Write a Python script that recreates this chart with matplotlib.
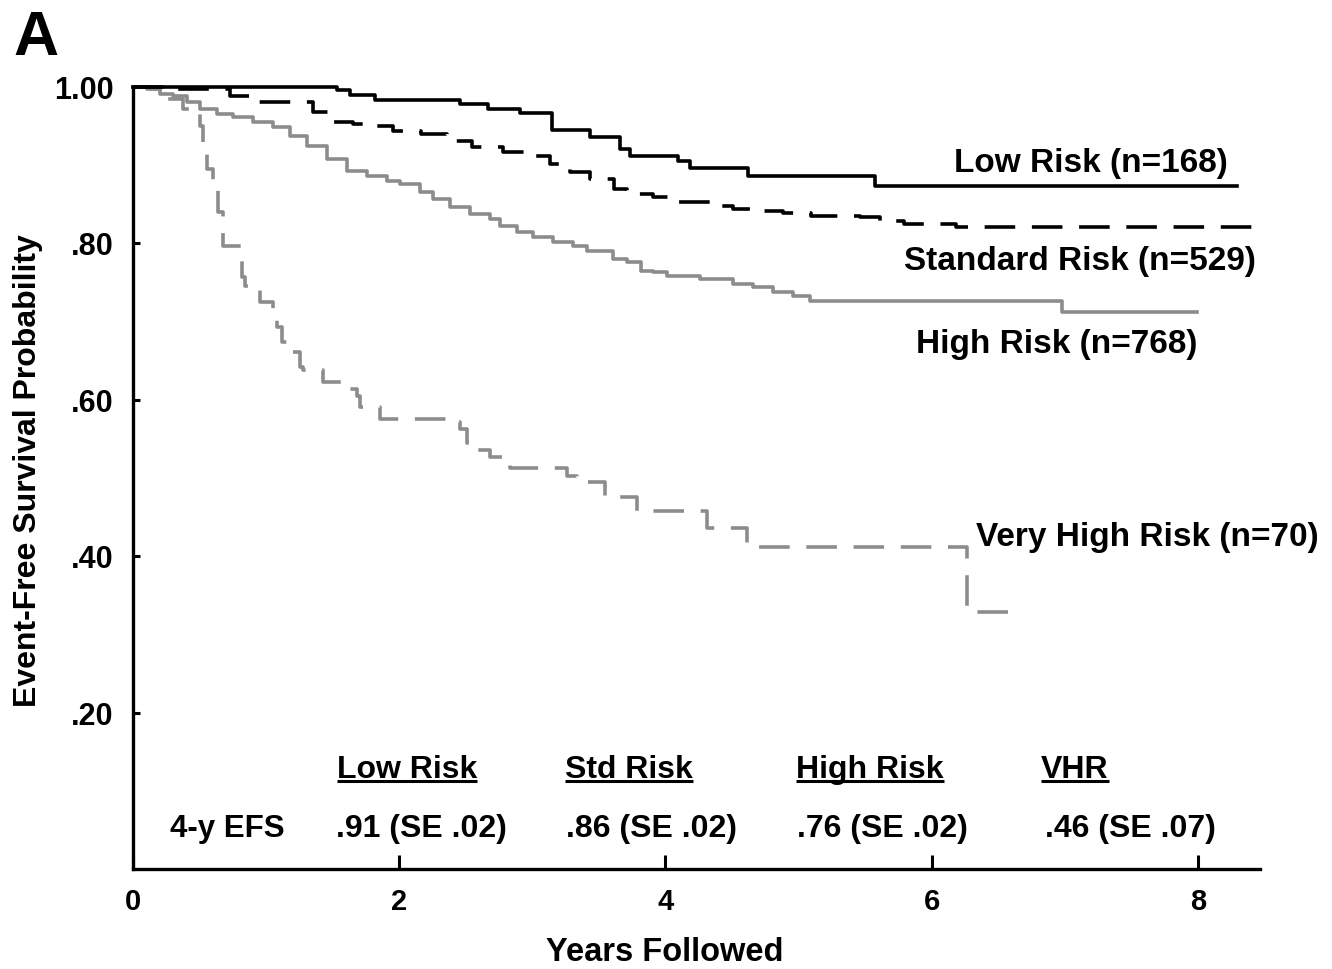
import matplotlib
matplotlib.use('Agg')
import matplotlib.pyplot as plt

plt.rcParams['font.family'] = ['Liberation Sans', 'DejaVu Sans']
plt.rcParams['font.weight'] = 'bold'
plt.rcParams['lines.scale_dashes'] = False

# ---------------- data ----------------
low_t = [0.0, 1.533, 1.630, 1.818, 2.457, 2.667, 2.908, 3.148, 3.434, 3.659, 3.734,
         4.095, 4.185, 4.621, 5.574, 8.295]
low_s = [1.000, 0.9955, 0.989, 0.983, 0.978, 0.971, 0.966, 0.945, 0.935, 0.920, 0.911,
         0.905, 0.896, 0.885, 0.873, 0.873]

std_t = [0.0, 0.30, 0.73, 0.93, 1.35, 1.50, 1.65, 1.83, 1.95, 2.16, 2.36, 2.55, 2.78,
         2.96, 3.13, 3.28, 3.43, 3.61, 3.71, 3.91, 4.09, 4.36, 4.51, 4.71, 4.88, 5.09,
         5.46, 5.61, 5.79, 6.18, 8.45]
std_s = [1.000, 0.997, 0.988, 0.980, 0.967, 0.955, 0.952, 0.950, 0.943, 0.939, 0.930,
         0.923, 0.916, 0.911, 0.901, 0.891, 0.882, 0.869, 0.862, 0.859, 0.853, 0.847,
         0.844, 0.841, 0.838, 0.834, 0.833, 0.828, 0.824, 0.821, 0.821]

high_t = [0.0, 0.105, 0.203, 0.301, 0.406, 0.503, 0.631, 0.751, 0.902, 1.052, 1.180,
          1.307, 1.458, 1.608, 1.758, 1.908, 2.006, 2.156, 2.254, 2.382, 2.532, 2.682,
          2.757, 2.885, 3.005, 3.156, 3.306, 3.411, 3.606, 3.711, 3.816, 3.907, 4.012,
          4.260, 4.508, 4.658, 4.808, 4.959, 5.086, 6.980, 7.994]
high_s = [1.000, 0.9968, 0.9904, 0.9878, 0.9802, 0.9712, 0.9648, 0.9610, 0.9546, 0.9482,
          0.9367, 0.9239, 0.9073, 0.8919, 0.8855, 0.8791, 0.8752, 0.8650, 0.8560, 0.8458,
          0.8368, 0.8304, 0.8215, 0.8138, 0.8074, 0.8010, 0.7959, 0.7895, 0.7793, 0.7754,
          0.7639, 0.7626, 0.7575, 0.7537, 0.7473, 0.7434, 0.7370, 0.7319, 0.7255, 0.7115,
          0.7115]

vhr_t = [0.0, 0.128, 0.255, 0.376, 0.503, 0.526, 0.556, 0.601, 0.639, 0.676, 0.819,
         0.841, 0.954, 1.052, 1.082, 1.119, 1.157, 1.255, 1.277, 1.427, 1.630, 1.683,
         1.705, 1.856, 2.382, 2.457, 2.509, 2.554, 2.682, 2.832, 3.261, 3.336, 3.546,
         3.787, 4.313, 4.613, 6.266, 6.664]
vhr_s = [1.000, 0.997, 0.984, 0.971, 0.950, 0.920, 0.894, 0.875, 0.839, 0.796, 0.757,
         0.745, 0.725, 0.711, 0.693, 0.673, 0.661, 0.642, 0.638, 0.622, 0.613, 0.604,
         0.591, 0.575, 0.571, 0.562, 0.545, 0.536, 0.527, 0.513, 0.502, 0.494, 0.475,
         0.457, 0.436, 0.411, 0.329, 0.329]

curve_labels = ['Low Risk (n=168)', 'Standard Risk (n=529)', 'High Risk (n=768)',
                'Very High Risk (n=70)']
table_heads = ['Low Risk', 'Std Risk', 'High Risk', 'VHR']
table_vals = ['.91 (SE .02)', '.86 (SE .02)', '.76 (SE .02)', '.46 (SE .07)']
row_label = '4-y EFS'

xticks = [0, 2, 4, 6, 8]
yticks = [0.2, 0.4, 0.6, 0.8, 1.0]
ytick_labels = ['.20', '.40', '.60', '.80', '1.00']

# ---------------- figure ----------------
W, H = 1332, 970
fig = plt.figure(figsize=(W / 100, H / 100), dpi=100)
ax = fig.add_axes([133 / W, 1 - 870 / H, (1260 - 133) / W, (870 - 87.5) / H])

GRAY = '#8c8c8c'
LW = 2.6
dash = (0, (22, 12))

ax.plot(high_t, high_s, drawstyle='steps-post', color=GRAY, lw=LW, clip_on=False)
ax.plot(vhr_t, vhr_s, drawstyle='steps-post', color=GRAY, lw=LW, linestyle=dash,
        clip_on=False)
ax.plot(std_t, std_s, drawstyle='steps-post', color='black', lw=LW, linestyle=dash,
        clip_on=False)
ax.plot(low_t, low_s, drawstyle='steps-post', color='black', lw=LW, clip_on=False)

ax.set_xlim(0, 8.467)
ax.set_ylim(0, 1.0)

for s in ['top', 'right']:
    ax.spines[s].set_visible(False)
for s in ['left', 'bottom']:
    ax.spines[s].set_linewidth(2.4)

ax.set_xticks(xticks)
ax.set_xticklabels([str(v) for v in xticks])
ax.set_yticks(yticks)
ax.set_yticklabels(ytick_labels)
ax.tick_params(axis='x', direction='in', length=10, width=2.2, pad=13, labelsize=21)
ax.tick_params(axis='y', direction='in', length=5, width=2.2, pad=14, labelsize=22)
for lab in ax.get_xticklabels() + ax.get_yticklabels():
    lab.set_fontweight('bold')

ax.set_xlabel('Years Followed', fontsize=23.5, fontweight='bold')
ax.xaxis.set_label_coords(0.472, -0.086)
ax.set_ylabel('Event-Free Survival Probability', fontsize=23, fontweight='bold')
ax.yaxis.set_label_coords(-0.080, 0.511)

# curve labels
FS = 24
ax.text(8.227, 0.903, curve_labels[0], ha='right', va='center', fontsize=FS,
        fontweight='bold')
ax.text(8.437, 0.777, curve_labels[1], ha='right', va='center', fontsize=FS,
        fontweight='bold')
ax.text(7.994, 0.672, curve_labels[2], ha='right', va='center', fontsize=FS,
        fontweight='bold')
ax.text(6.333, 0.425, curve_labels[3], ha='left', va='center', fontsize=FS,
        fontweight='bold')

# table
TFS = 23
head_x = [2.059, 3.727, 5.537, 7.077]
val_x = [2.164, 3.899, 5.627, 7.491]
head_base = 0.1177
val_base = 0.0422
heads = []
for x, t in zip(head_x, table_heads):
    heads.append(ax.text(x, head_base, t, ha='center', va='baseline', fontsize=TFS,
                         fontweight='bold'))
for x, t in zip(val_x, table_vals):
    ax.text(x, val_base, t, ha='center', va='baseline', fontsize=TFS, fontweight='bold')
ax.text(0.706, val_base, row_label, ha='center', va='baseline', fontsize=22.5,
        fontweight='bold')

fig.canvas.draw()
inv = ax.transData.inverted()
for t in heads:
    bb = t.get_window_extent()
    x0 = inv.transform((bb.x0, bb.y0))[0]
    x1 = inv.transform((bb.x1, bb.y0))[0]
    ax.plot([x0, x1], [head_base - 0.0055] * 2, color='black', lw=2.2,
            solid_capstyle='butt')

fig.text(13 / W, 1 - 55 / H, 'A', fontsize=45, fontweight='bold', ha='left',
         va='baseline')

fig.savefig('out.png', dpi=100)
